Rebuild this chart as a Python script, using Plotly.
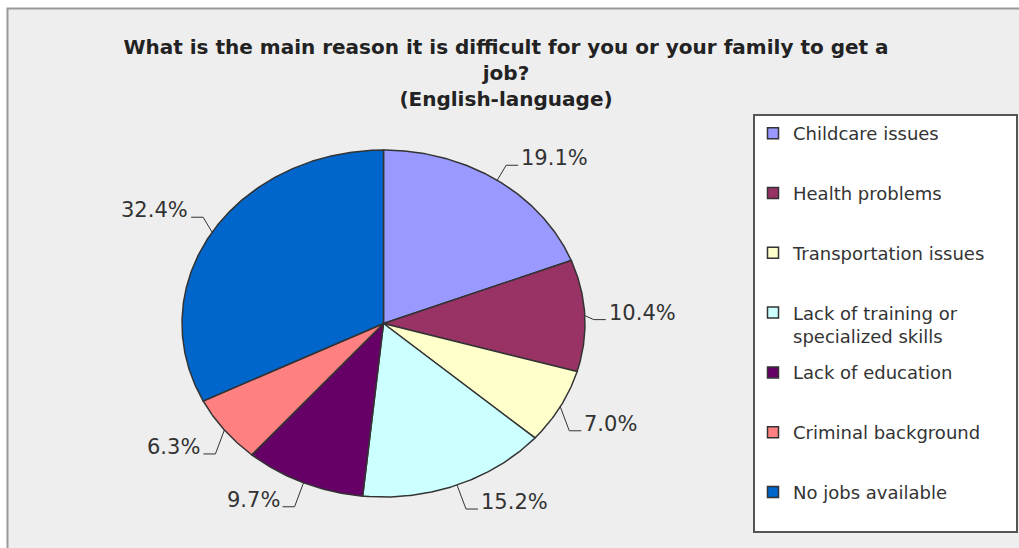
import numpy as np
import plotly.graph_objects as go

# Survey answers (English-language respondents)
categories = [
    "Childcare issues",
    "Health problems",
    "Transportation issues",
    "Lack of training or specialized skills",
    "Lack of education",
    "Criminal background",
    "No jobs available",
]
shares = [19.1, 10.4, 7.0, 15.2, 9.7, 6.3, 32.4]
legend_names = [
    "Childcare issues",
    "Health problems",
    "Transportation issues",
    "Lack of training or<br>specialized skills",
    "Lack of education",
    "Criminal background",
    "No jobs available",
]
colors = ["#9999FF", "#993366", "#FFFFCC", "#CCFFFF", "#660066", "#FF8080", "#0066CC"]

W, H = 1019, 548
CX, CY = 383.5, 323.5      # pie centre (px from top-left)
RX, RY = 201.5, 173.5      # horizontal / vertical radius (px)
EDGE = "#333333"
TEXT = "#333333"

fig = go.Figure()

total = float(sum(shares))
cum = np.concatenate([[0.0], np.cumsum(shares)]) / total

# slices: unit-circle wedges, the axis scales stretch them into an ellipse
for i, (name, col) in enumerate(zip(categories, colors)):
    t = np.linspace(cum[i], cum[i + 1], max(8, int((cum[i + 1] - cum[i]) * 720)))
    ang = 2 * np.pi * t
    xs = np.concatenate([[0.0], np.sin(ang), [0.0]])
    ys = np.concatenate([[0.0], np.cos(ang), [0.0]])
    fig.add_trace(go.Scatter(
        x=xs, y=ys, mode="lines", fill="toself", fillcolor=col,
        line=dict(color=EDGE, width=1.5), name=name,
        showlegend=False, hoverinfo="skip",
    ))

# leader lines (short diagonal + horizontal stub) and percentage labels
annotations = []
for i, v in enumerate(shares):
    mid = 2 * np.pi * (cum[i] + cum[i + 1]) / 2
    sx, cy_ = np.sin(mid), np.cos(mid)
    side = 1 if sx >= 0 else -1
    if abs(cy_) < 0.2:
        dy_px = -4.0            # near-horizontal: drop slightly
    elif cy_ > 0:
        dy_px = 15.0            # upper half: rise
    else:
        dy_px = -24.0           # lower half: fall
    ex, ey = sx, cy_
    bx, by = ex + side * 9 / RX, ey + dy_px / RY
    tx = bx + side * 12 / RX
    fig.add_trace(go.Scatter(
        x=[ex, bx, tx], y=[ey, by, by], mode="lines",
        line=dict(color=EDGE, width=1), showlegend=False, hoverinfo="skip",
    ))
    annotations.append(dict(
        x=tx, y=by, xref="x", yref="y", text=f"{v:.1f}%", showarrow=False,
        xanchor="left" if side > 0 else "right", yanchor="middle",
        xshift=side * 1, yshift=7,
        font=dict(family="DejaVu Sans, Arial, sans-serif", size=21, color=TEXT),
    ))

# legend entries with square swatches
for i, (nm, col) in enumerate(zip(legend_names, colors)):
    label = nm if "<br>" in nm else nm + "<br>\u00a0"
    fig.add_trace(go.Scatter(
        x=[None], y=[None], mode="markers", name=label, legendgroup=str(i),
        marker=dict(symbol="square", size=11, color=col, line=dict(color=EDGE, width=1.5)),
        hoverinfo="skip",
    ))

shapes = [
    # chart area frame
    dict(type="rect", xref="paper", yref="paper", layer="below",
         x0=7.5 / W, x1=1.05, y0=-0.05, y1=1 - 8.5 / H,
         fillcolor="#EEEEEE", line=dict(color="#999999", width=2)),
    # legend box
    dict(type="rect", xref="paper", yref="paper", layer="below",
         x0=754 / W, x1=1017 / W, y0=1 - 532 / H, y1=1 - 115 / H,
         fillcolor="#FFFFFF", line=dict(color="#555555", width=2)),
]

fig.update_layout(
    width=W, height=H,
    margin=dict(l=0, r=0, t=0, b=0),
    paper_bgcolor="#FFFFFF", plot_bgcolor="rgba(0,0,0,0)",
    xaxis=dict(visible=False, range=[-CX / RX, (W - CX) / RX], domain=[0, 1], fixedrange=True),
    yaxis=dict(visible=False, range=[-(H - CY) / RY, CY / RY], domain=[0, 1], fixedrange=True),
    title=dict(
        text="What is the main reason it is difficult for you or your family to get a<br>job?<br>(English-language)",
        x=506 / W, xanchor="center", xref="paper",
        y=1 - 54 / H, yanchor="top", yref="paper",
        font=dict(family="DejaVu Sans, Arial, sans-serif", size=20, color="#222222", weight="bold"),
    ),
    legend=dict(
        x=753 / W, xanchor="left", y=1 - 115 / H, yanchor="top",
        bgcolor="rgba(0,0,0,0)", borderwidth=0,
        traceorder="grouped", tracegroupgap=10, valign="top",
        font=dict(family="DejaVu Sans, Arial, sans-serif", size=18, color=TEXT),
        itemclick=False, itemdoubleclick=False,
    ),
    shapes=shapes,
    annotations=annotations,
    showlegend=True,
)

fig.write_html("out.html")
